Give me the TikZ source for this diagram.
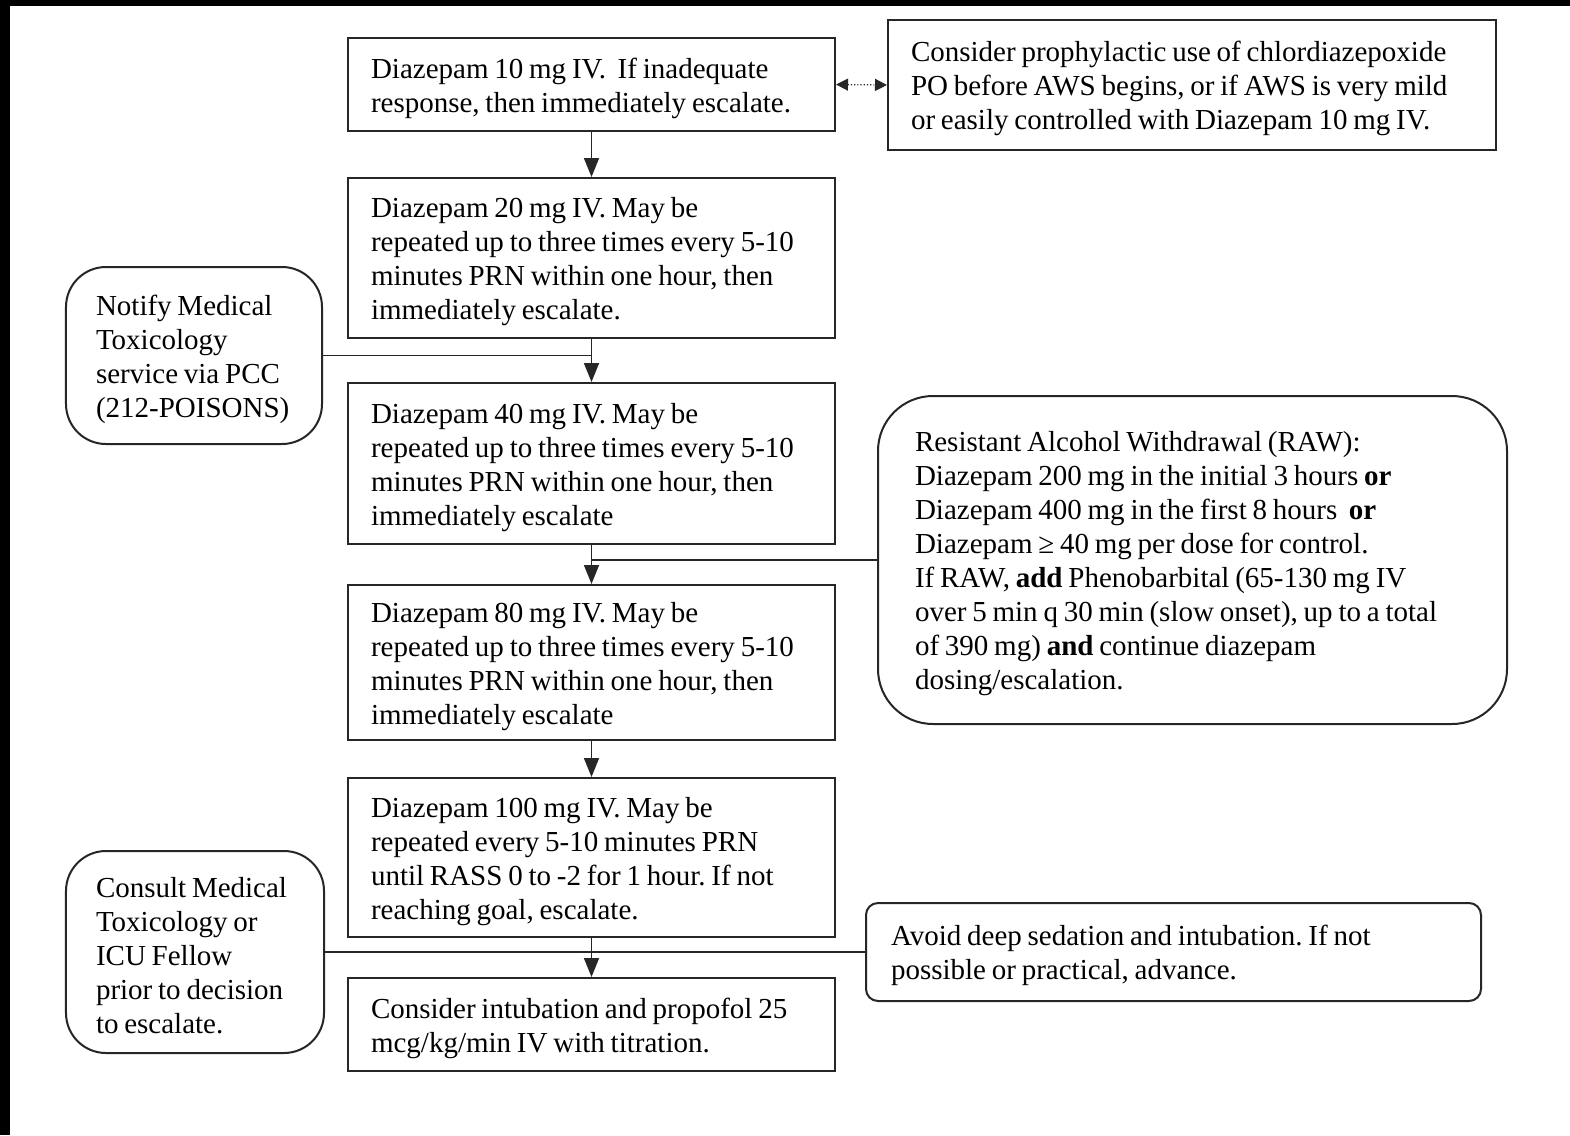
\documentclass[tikz,border=0pt]{standalone}
\usepackage{fontspec}
\setmainfont{Liberation Serif}
\usetikzlibrary{arrows.meta}
\begin{document}
\begin{tikzpicture}[x=1bp,y=-1bp,
  font=\fontsize{29bp}{34bp}\selectfont,
  execute at begin node={\frenchspacing\spaceskip=0.2em plus 0.2em minus 0.05em\relax\rule{0pt}{28bp}},
  boxline/.style={draw=black!85, line width=2bp},
  mainbox/.style={boxline, rectangle, text width=441bp, inner xsep=23bp, inner ysep=0bp, align=left},
  sidebox/.style={boxline, rectangle, inner ysep=0bp, align=left},
  conn/.style={draw=black!85, line width=1.7bp},
  arr/.style={conn, -{Triangle[width=15bp,length=19bp]}},
  darr/.style={draw=black!85, line width=1.2bp, dotted, {Triangle[width=12bp,length=12bp]}-{Triangle[width=12bp,length=12bp]}}
]
\useasboundingbox (0,0) rectangle (1570,1135);
\fill[white] (0,0) rectangle (1570,1135);
\fill[black] (0,0) rectangle (1570,6);
\fill[black] (0,0) rectangle (10,1135);

% main column
\node[mainbox, minimum height=93bp] (b1) at (591.5,84.5)
  {Diazepam 10 mg IV.\ \ If inadequate\\ response, then immediately escalate.};
\node[mainbox, minimum height=160bp] (b2) at (591.5,258)
  {Diazepam 20 mg IV. May be\\ repeated up to three times every 5-10\\ minutes PRN within one hour, then\\ immediately escalate.};
\node[mainbox, minimum height=161bp] (b3) at (591.5,463.5)
  {Diazepam 40 mg IV. May be\\ repeated up to three times every 5-10\\ minutes PRN within one hour, then\\ immediately escalate};
\node[mainbox, minimum height=155bp] (b4) at (591.5,662.5)
  {Diazepam 80 mg IV. May be\\ repeated up to three times every 5-10\\ minutes PRN within one hour, then\\ immediately escalate};
\node[mainbox, minimum height=159bp] (b5) at (591.5,857.5)
  {Diazepam 100 mg IV. May be\\ repeated every 5-10 minutes PRN\\ until RASS 0 to -2 for 1 hour. If not\\ reaching goal, escalate.};
\node[mainbox, minimum height=93bp] (b6) at (591.5,1024.5)
  {Consider intubation and propofol 25\\ mcg/kg/min IV with titration.};

% side boxes
\node[sidebox, text width=562bp, inner xsep=23bp, minimum height=130bp] (tr) at (1192,85)
  {Consider prophylactic use of chlordiazepoxide\\ PO before AWS begins, or if AWS is very mild\\ or easily controlled with Diazepam 10 mg IV.};
\node[sidebox, rounded corners=40bp, text width=196bp, inner xsep=30bp, minimum height=177bp] (n1) at (194,355.5)
  {Notify Medical\\ Toxicology\\ service via PCC\\ (212-POISONS)};
\node[sidebox, rounded corners=55bp, text width=555bp, inner xsep=37bp, minimum height=328bp] (raw) at (1192.5,560)
  {Resistant Alcohol Withdrawal (RAW):\\
   Diazepam 200 mg in the initial 3 hours \textbf{or}\\
   Diazepam 400 mg in the first 8 hours \ \textbf{or}\\
   Diazepam ≥ 40 mg per dose for control.\\
   If RAW, \textbf{add} Phenobarbital (65-130 mg IV\\
   over 5 min q 30 min (slow onset), up to a total\\
   of 390 mg) \textbf{and} continue diazepam\\
   dosing/escalation.};
\node[sidebox, rounded corners=40bp, text width=198bp, inner xsep=30bp, minimum height=202bp] (c1) at (195,952)
  {Consult Medical\\ Toxicology or\\ ICU Fellow\\ prior to decision\\ to escalate.};
\node[sidebox, rounded corners=12bp, text width=565bp, inner xsep=25bp, minimum height=98bp] (av) at (1173.5,952)
  {Avoid deep sedation and intubation. If not\\ possible or practical, advance.};

% connectors
\draw[arr] (b1) -- (b2);
\draw[arr] (b2) -- (b3);
\draw[arr] (b3) -- (b4);
\draw[arr] (b4) -- (b5);
\draw[arr] (b5) -- (b6);
\draw[darr] (b1.east) -- (tr.west);
\draw[conn] (n1.east) -- (n1.east -| b2.south);
\draw[conn] (raw.west) -- (raw.west -| b3.south);
\draw[conn] (c1.east) -- (c1.east -| b5.south);
\draw[conn] (av.west) -- (av.west -| b5.south);
\end{tikzpicture}
\end{document}
